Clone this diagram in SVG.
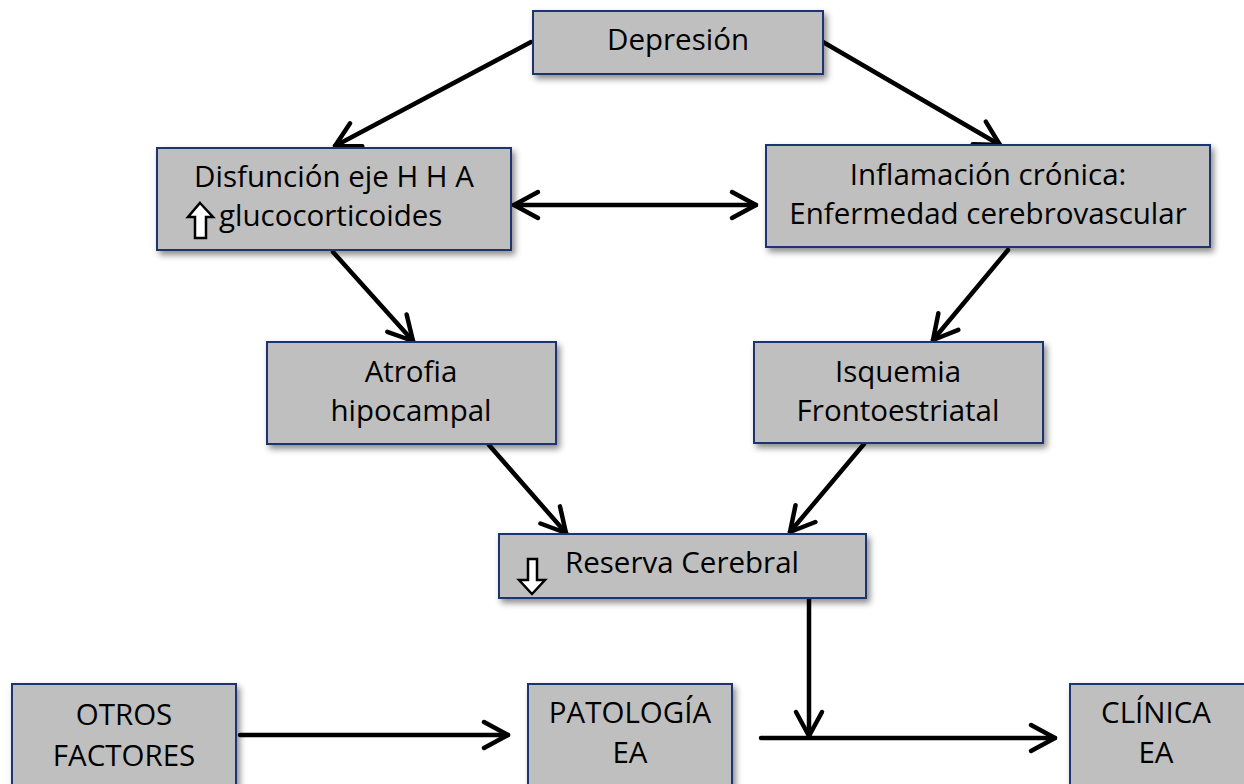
<svg xmlns="http://www.w3.org/2000/svg" width="1244" height="784" viewBox="0 0 1244 784">
  <defs>
    <filter id="shadow" x="-10%" y="-10%" width="130%" height="140%">
      <feDropShadow dx="3" dy="4" stdDeviation="3" flood-color="#000" flood-opacity="0.45"/>
    </filter>
    <marker id="arrow" markerUnits="userSpaceOnUse" markerWidth="40" markerHeight="40" viewBox="-30 -20 40 40" refX="0" refY="0" orient="auto-start-reverse">
      <path d="M-24,-13 L0,0 L-24,13" fill="none" stroke="#000" stroke-width="4.5" stroke-linecap="round" stroke-linejoin="round"/>
    </marker>
    <style>
      .box { fill: #bfbfbf; stroke: #1a3570; stroke-width: 2; filter: url(#shadow); }
      .lbl { font-family: "Open Sans", "Liberation Sans", sans-serif; font-size: 29.5px; fill: #000; text-anchor: middle; }
      .conn { fill: none; stroke: #000; stroke-width: 4.5; stroke-linecap: round; }
      .icon { fill: #fff; stroke: #000; stroke-width: 2.5; stroke-linejoin: miter; }
    </style>
  </defs>
  <rect width="1244" height="784" fill="#fff"/>

  <g id="connectors">
    <line class="conn" x1="531" y1="42" x2="335" y2="146" marker-end="url(#arrow)"/>
    <line class="conn" x1="823" y1="42" x2="1000" y2="145" marker-end="url(#arrow)"/>
    <line class="conn" x1="514" y1="205" x2="756" y2="205" marker-start="url(#arrow)" marker-end="url(#arrow)"/>
    <line class="conn" x1="333" y1="252" x2="413" y2="341" marker-end="url(#arrow)"/>
    <line class="conn" x1="1008" y1="250" x2="933" y2="340" marker-end="url(#arrow)"/>
    <line class="conn" x1="489" y1="445" x2="566" y2="533" marker-end="url(#arrow)"/>
    <line class="conn" x1="864" y1="444" x2="790" y2="532" marker-end="url(#arrow)"/>
    <line class="conn" x1="809" y1="598" x2="809" y2="736" marker-end="url(#arrow)"/>
    <line class="conn" x1="761" y1="738" x2="1055" y2="738" marker-end="url(#arrow)"/>
    <line class="conn" x1="240" y1="735" x2="508" y2="735" marker-end="url(#arrow)"/>
  </g>

  <g id="depresion">
    <rect class="box" x="533" y="11" width="290" height="63"/>
    <text class="lbl" x="678" y="50">Depresión</text>
  </g>

  <g id="disfuncion">
    <rect class="box" x="157" y="148" width="354" height="102"/>
    <text class="lbl" x="334" y="187">Disfunción eje H H A</text>
    <path class="icon" d="M200,203 L213,217 L206,217 L206,238 L195,238 L195,217 L188,217 Z"/>
    <text class="lbl" x="219" y="226" style="text-anchor:start">glucocorticoides</text>
  </g>

  <g id="inflamacion">
    <rect class="box" x="766" y="145" width="444" height="102"/>
    <text class="lbl" x="988" y="185">Inflamación crónica:</text>
    <text class="lbl" x="988" y="224">Enfermedad cerebrovascular</text>
  </g>

  <g id="atrofia">
    <rect class="box" x="267" y="342" width="289" height="102"/>
    <text class="lbl" x="411" y="382">Atrofia</text>
    <text class="lbl" x="411" y="421">hipocampal</text>
  </g>

  <g id="isquemia">
    <rect class="box" x="754" y="342" width="289" height="101"/>
    <text class="lbl" x="898" y="382">Isquemia</text>
    <text class="lbl" x="898" y="421">Frontoestriatal</text>
  </g>

  <g id="reserva">
    <rect class="box" x="499" y="534" width="367" height="64"/>
    <path class="icon" d="M528,559 L537,559 L537,580 L545,580 L532,594 L519,580 L528,580 Z"/>
    <text class="lbl" x="682" y="573">Reserva Cerebral</text>
  </g>

  <g id="otros">
    <rect class="box" x="12" y="684" width="224" height="120"/>
    <text class="lbl" x="124" y="725">OTROS</text>
    <text class="lbl" x="124" y="766">FACTORES</text>
  </g>

  <g id="patologia">
    <rect class="box" x="528" y="684" width="204" height="120"/>
    <text class="lbl" x="630" y="723">PATOLOGÍA</text>
    <text class="lbl" x="630" y="763">EA</text>
  </g>

  <g id="clinica">
    <rect class="box" x="1070" y="684" width="190" height="120"/>
    <text class="lbl" x="1156" y="723">CLÍNICA</text>
    <text class="lbl" x="1156" y="763">EA</text>
  </g>
</svg>
